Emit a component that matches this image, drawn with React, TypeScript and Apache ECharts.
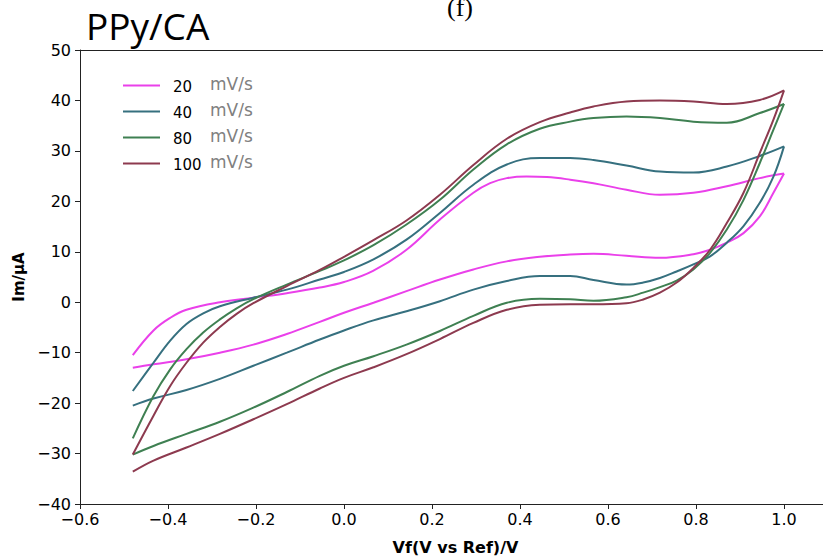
import React, { useEffect, useRef } from "react";
import * as echarts from "echarts";

const scanRates = ["20", "40", "80", "100"];
const unitLabel = "mV/s";
const colors = ["#ea40ea", "#36707f", "#3f8052", "#8d3a4f"];

// forward (anodic) scans, -0.48 V -> 1.0 V  [V, µA]
const forward20: [number, number][] = [
  [-0.48, -10.5], [-0.433, -5.6], [-0.395, -3.1], [-0.358, -1.5], [-0.282, 0.0],
  [-0.206, 0.9], [-0.13, 1.8], [-0.055, 2.9], [0.0, 4.0], [0.066, 6.2], [0.142, 10.4],
  [0.218, 16.4], [0.294, 21.7], [0.332, 23.6], [0.37, 24.6], [0.415, 24.9], [0.461, 24.8],
  [0.514, 24.3], [0.567, 23.6], [0.642, 22.3], [0.718, 21.3], [0.794, 21.7], [0.87, 23.0],
  [0.945, 24.6], [1.0, 25.5],
];
const forward40: [number, number][] = [
  [-0.48, -17.6], [-0.433, -12.0], [-0.395, -7.6], [-0.358, -4.3], [-0.32, -2.2], [-0.282, -0.8],
  [-0.206, 0.9], [-0.13, 2.5], [-0.055, 4.5], [0.0, 6.0], [0.067, 8.5], [0.142, 12.4],
  [0.218, 17.7], [0.294, 23.3], [0.37, 27.3], [0.445, 28.6], [0.514, 28.6], [0.567, 28.2],
  [0.642, 27.1], [0.718, 25.9], [0.794, 25.7], [0.87, 26.9], [0.945, 29.0], [1.0, 30.9],
];
const forward80: [number, number][] = [
  [-0.48, -27.0], [-0.433, -18.6], [-0.395, -13.3], [-0.358, -9.3], [-0.32, -6.0], [-0.282, -3.4],
  [-0.244, -1.2], [-0.206, 0.6], [-0.13, 3.5], [-0.055, 6.2], [0.0, 8.3], [0.067, 11.3],
  [0.142, 15.4], [0.218, 20.3], [0.294, 26.3], [0.37, 31.3], [0.445, 34.4], [0.514, 35.8],
  [0.567, 36.5], [0.642, 36.8], [0.718, 36.5], [0.794, 35.8], [0.87, 35.6], [0.945, 37.5],
  [1.0, 39.3],
];
const forward100: [number, number][] = [
  [-0.48, -30.2], [-0.433, -22.5], [-0.395, -16.6], [-0.358, -12.0], [-0.32, -8.0], [-0.282, -4.9],
  [-0.244, -2.3], [-0.206, -0.2], [-0.13, 3.2], [-0.055, 6.4], [0.0, 9.0], [0.067, 12.3],
  [0.142, 16.2], [0.218, 21.3], [0.294, 27.2], [0.37, 32.4], [0.445, 35.7], [0.514, 37.6],
  [0.567, 38.8], [0.642, 39.8], [0.718, 40.0], [0.794, 39.8], [0.87, 39.3], [0.945, 40.1],
  [1.0, 42.0],
];

// reverse (cathodic) scans, 1.0 V -> -0.48 V
const reverse20: [number, number][] = [
  [1.0, 25.5], [0.976, 21.7], [0.945, 17.0], [0.908, 13.7], [0.87, 11.8], [0.832, 10.4],
  [0.794, 9.5], [0.718, 8.8], [0.642, 9.2], [0.567, 9.6], [0.514, 9.45], [0.445, 9.0],
  [0.37, 8.1], [0.294, 6.5], [0.218, 4.5], [0.142, 2.2], [0.067, -0.1], [0.0, -2.1],
  [-0.055, -3.9], [-0.13, -6.3], [-0.206, -8.4], [-0.282, -10.0], [-0.358, -11.3],
  [-0.433, -12.3], [-0.48, -13.0],
];
const reverse40: [number, number][] = [
  [1.0, 30.9], [0.976, 24.9], [0.945, 19.7], [0.908, 15.1], [0.87, 11.8], [0.832, 9.1],
  [0.794, 7.5], [0.756, 6.1], [0.718, 4.8], [0.68, 3.9], [0.642, 3.5], [0.567, 4.4],
  [0.514, 5.2], [0.445, 5.2], [0.37, 4.2], [0.294, 2.5], [0.218, 0.2], [0.142, -1.8],
  [0.067, -3.6], [0.0, -5.6], [-0.055, -7.4], [-0.13, -10.0], [-0.206, -12.6], [-0.282, -15.2],
  [-0.358, -17.4], [-0.433, -19.1], [-0.48, -20.5],
];
const reverse80: [number, number][] = [
  [1.0, 39.3], [0.976, 34.2], [0.945, 27.6], [0.908, 20.3], [0.87, 14.4], [0.832, 9.8],
  [0.794, 6.5], [0.756, 4.3], [0.718, 3.0], [0.68, 1.9], [0.642, 1.0], [0.567, 0.3],
  [0.514, 0.6], [0.445, 0.7], [0.37, -0.1], [0.294, -2.7], [0.218, -5.7], [0.142, -8.4],
  [0.067, -10.7], [0.0, -12.6], [-0.055, -14.6], [-0.13, -17.8], [-0.206, -20.9],
  [-0.282, -23.7], [-0.358, -26.1], [-0.433, -28.5], [-0.48, -30.2],
];
const reverse100: [number, number][] = [
  [1.0, 42.0], [0.976, 36.2], [0.945, 29.6], [0.908, 21.7], [0.87, 15.7], [0.832, 10.4],
  [0.794, 6.8], [0.756, 3.9], [0.718, 1.9], [0.68, 0.55], [0.642, -0.2], [0.567, -0.4],
  [0.514, -0.4], [0.445, -0.5], [0.37, -1.5], [0.294, -4.1], [0.218, -7.3], [0.142, -10.3],
  [0.067, -12.9], [0.0, -15.0], [-0.055, -17.1], [-0.13, -20.2], [-0.206, -23.2],
  [-0.282, -26.1], [-0.358, -28.8], [-0.433, -31.4], [-0.48, -33.6],
];

const forwardScans = [forward20, forward40, forward80, forward100];
const reverseScans = [reverse20, reverse40, reverse80, reverse100];

const minus = (s: string) => s.replace("-", "\u2212");

export default function App() {
  const ref = useRef<HTMLDivElement>(null);
  useEffect(() => {
    if (!ref.current) return;
    const chart = echarts.init(ref.current, null, { renderer: "svg" });
    const series: any[] = [];
    scanRates.forEach((name, i) => {
      [forwardScans[i], reverseScans[i]].forEach((data) => {
        series.push({
          type: "line",
          name,
          data,
          smooth: 0.4,
          showSymbol: false,
          symbol: "none",
          lineStyle: { color: colors[i], width: 2 },
          itemStyle: { color: colors[i] },
        });
      });
    });
    const xMin = -0.6;
    const xMax = 1.0886;
    chart.setOption({
      animation: false,
      backgroundColor: "#fff",
      grid: { left: 80, top: 50, right: 0, bottom: 55 },
      legend: {
        orient: "vertical",
        left: 123,
        top: 75,
        padding: 0,
        icon: "rect",
        itemWidth: 37,
        itemHeight: 2,
        itemGap: 5,
        data: scanRates,
        formatter: (n: string) => `{a|${n}}{b|${unitLabel}}`,
        textStyle: {
          rich: {
            a: { fontSize: 15, color: "#000", fontFamily: "DejaVu Sans", width: 37, padding: [3, 0, 0, 8], lineHeight: 20 },
            b: { fontSize: 17, color: "#808080", fontFamily: "DejaVu Sans", lineHeight: 20, padding: [0, 0, 4, 0] },
          },
        },
      },
      xAxis: [
        {
          type: "value",
          min: xMin,
          max: xMax,
          interval: 0.2,
          splitLine: { show: false },
          axisLine: { show: true, onZero: false, lineStyle: { color: "#222", width: 1 } },
          axisTick: { show: true, length: 5, lineStyle: { color: "#222" } },
          axisLabel: {
            showMaxLabel: false,
            fontSize: 16,
            color: "#000",
            fontFamily: "DejaVu Sans",
            margin: 7,
            formatter: (v: number) => minus(v.toFixed(1)),
          },
          name: "Vf(V vs Ref)/V",
          nameLocation: "middle",
          nameGap: 35,
          nameTextStyle: { fontSize: 16, fontWeight: "bold", color: "#000", fontFamily: "DejaVu Sans", padding: [0, 0, 0, 8] },
        },
        {
          type: "value",
          position: "top",
          min: xMin,
          max: xMax,
          interval: 0.2,
          splitLine: { show: false },
          axisLine: { show: true, onZero: false, lineStyle: { color: "#222", width: 1 } },
          axisTick: { show: false },
          axisLabel: { show: false },
        },
      ],
      yAxis: {
        type: "value",
        min: -40,
        max: 50,
        interval: 10,
        splitLine: { show: false },
        axisLine: { show: true, onZero: false, lineStyle: { color: "#222", width: 1 } },
        axisTick: { show: true, length: 5, lineStyle: { color: "#222" } },
        axisLabel: {
          fontSize: 16,
          color: "#000",
          fontFamily: "DejaVu Sans",
          margin: 9,
          formatter: (v: number) => minus(String(Math.round(v))),
        },
        name: "Im/\u03bcA",
        nameLocation: "middle",
        nameGap: 54,
        nameTextStyle: { fontSize: 15, fontWeight: "bold", color: "#000", fontFamily: "DejaVu Sans" },
      },
      graphic: [
        {
          type: "text",
          x: 86,
          y: 7,
          style: { text: "PPy/CA", fontSize: 37, fontFamily: "Open Sans", fill: "#000" },
        },
        {
          type: "text",
          x: 460,
          y: -6,
          style: { text: "(f)", fontSize: 26, fontFamily: "Liberation Serif", fill: "#000", align: "center" },
        },
      ],
      series,
    });
    return () => chart.dispose();
  }, []);
  return <div ref={ref} style={{ width: 823, height: 560, position: "absolute", left: 0, top: 0 }} />;
}
